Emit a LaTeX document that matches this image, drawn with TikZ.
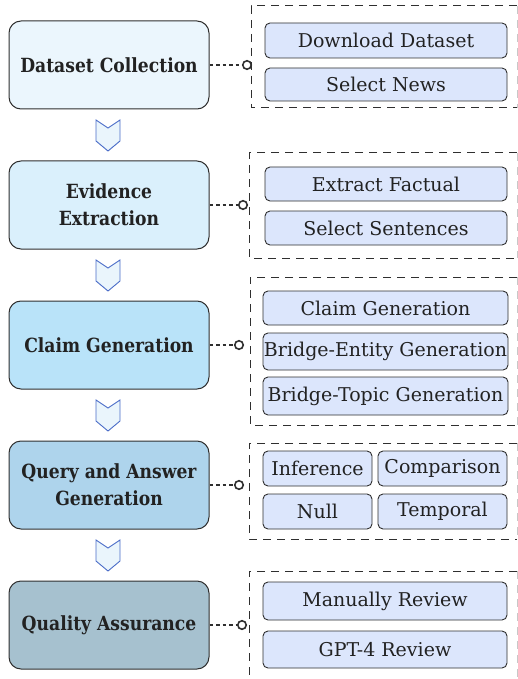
\documentclass[tikz,border=0pt]{standalone}
\usepackage{fontspec}
\setmainfont{DejaVu Serif}
\newfontfamily\stagefont[FakeStretch=0.88]{DejaVu Serif}
\newfontfamily\subfont{DejaVu Serif}
\usetikzlibrary{positioning}
\definecolor{edge}{HTML}{2F2F2F}
\definecolor{txt}{HTML}{222222}
\definecolor{fa}{HTML}{EBF6FD}
\definecolor{fb}{HTML}{DAF0FC}
\definecolor{fc}{HTML}{B9E3F9}
\definecolor{fd}{HTML}{AED4EC}
\definecolor{fe}{HTML}{A6C1CF}
\definecolor{subfill}{HTML}{DCE6FC}
\definecolor{chevfill}{HTML}{EAF5FC}
\definecolor{chevline}{HTML}{4A6CC8}
\definecolor{lightedge}{HTML}{C8C8C8}
\tikzset{
  stagebox/.style={draw=edge, line width=1pt, rounded corners=12pt, minimum width=200pt, minimum height=88pt, align=center, text=txt, font=\stagefont\bfseries\fontsize{19.5}{27}\selectfont, inner sep=0pt},
  subbox/.style={draw=edge, fill=subfill, line width=0.9pt, rounded corners=5pt, text=txt, font=\subfont\fontsize{19}{22}\selectfont, inner sep=0pt},
  joint/.style={circle, draw=edge, line width=1.6pt, minimum size=8.5pt, inner sep=0pt, fill=white},
  link/.style={edge, line width=1.4pt, dash pattern=on 3.5pt off 3pt},
  group/.style={edge, line width=1pt, dash pattern=on 8pt off 6pt},
  groupright/.style={lightedge, line width=1pt, dash pattern=on 8pt off 6pt},
  chev/.style={draw=chevline, fill=chevfill, line width=0.9pt, line join=miter}
}
\newcommand{\subnode}[6]{\node[subbox, minimum width=#4pt-#2pt, minimum height=#5pt-#3pt] (#1) at ({(#2+#4)/2},{(#3+#5)/2}) {#6};}
\newcommand{\chevron}[1]{\draw[chev] (96,#1) -- (108,#1+8) -- (120,#1) -- (120,#1+21) -- (108,#1+31) -- (96,#1+21) -- cycle;}
\begin{document}
\begin{tikzpicture}[x=1pt,y=-1pt]
\useasboundingbox (0,0) rectangle (518,679);
% stages
\node[stagebox, fill=fa] (s1) at (109,65) {Dataset Collection};
\node[stagebox, fill=fb] (s2) at (109,205) {Evidence\\Extraction};
\node[stagebox, fill=fc] (s3) at (109,345) {Claim Generation};
\node[stagebox, fill=fd] (s4) at (109,485) {Query and Answer\\Generation};
\node[stagebox, fill=fe] (s5) at (109,625) {Quality Assurance};
% chevrons
\chevron{120}
\chevron{260}
\chevron{400}
\chevron{540}
% groups
\draw[groupright] (517,6) -- (517,108);
\draw[group] (517,6) -- (251,6) -- (251,108) -- (517,108);
\draw[groupright] (517,153) -- (517,258);
\draw[group] (517,153) -- (249,153) -- (249,258) -- (517,258);
\draw[groupright] (517,277) -- (517,425);
\draw[group] (517,277) -- (250,277) -- (250,425) -- (517,425);
\draw[groupright] (517,443) -- (517,539);
\draw[group] (517,443) -- (249,443) -- (249,539) -- (517,539);
\draw[groupright] (517,571) -- (517,690);
\draw[group] (517,571) -- (249,571) -- (249,690);
% sub boxes
\subnode{a1}{265}{23}{507}{58}{Download Dataset}
\subnode{a2}{265}{68}{507}{101}{Select News}
\subnode{b1}{265}{167}{507}{201}{Extract Factual}
\subnode{b2}{265}{211}{507}{245}{Select Sentences}
\subnode{c1}{263}{291}{508}{325}{Claim Generation}
\subnode{c2}{263}{333}{508}{370}{Bridge-Entity Generation}
\subnode{c3}{263}{377}{508}{415}{Bridge-Topic Generation}
\subnode{d1}{263}{451}{372}{486}{Inference}
\subnode{d2}{378}{451}{507}{486}{Comparison}
\subnode{d3}{263}{494}{372}{529}{Null}
\subnode{d4}{378}{494}{507}{529}{Temporal}
\subnode{e1}{263}{582}{507}{620}{Manually Review}
\subnode{e2}{263}{631}{507}{668}{GPT-4 Review}
% joints and links
\node[joint] (j1) at (247,65) {};
\node[joint] (j2) at (243,205) {};
\node[joint] (j3) at (239,345) {};
\node[joint] (j4) at (239,485) {};
\node[joint] (j5) at (242,625) {};
\draw[link] (s1.east) -- (j1.west);
\draw[link] (s2.east) -- (j2.west);
\draw[link] (s3.east) -- (j3.west);
\draw[link] (s4.east) -- (j4.west);
\draw[link] (s5.east) -- (j5.west);
\end{tikzpicture}
\end{document}
